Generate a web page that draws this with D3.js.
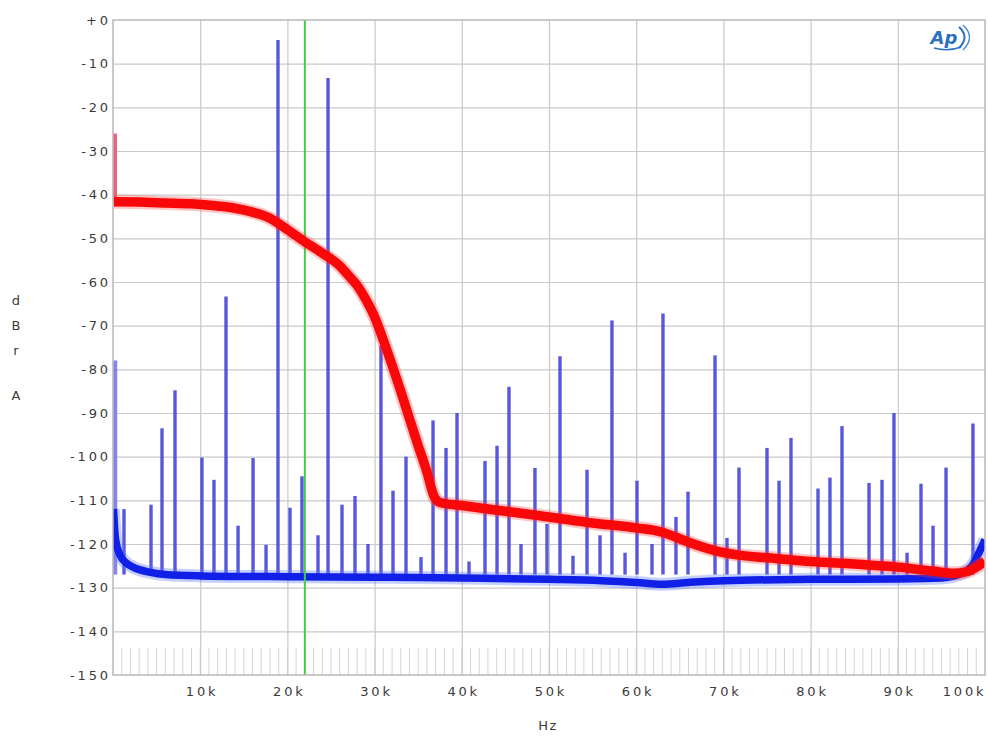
<!DOCTYPE html>
<html><head><meta charset="utf-8">
<script src="https://cdn.jsdelivr.net/npm/d3@7/dist/d3.min.js"></script>
<style>body{margin:0;background:#fff}svg{display:block}</style>
</head><body><svg id="c" width="988" height="737"></svg>
<script>
// ---------- data ----------
const xTickValues = [10000,20000,30000,40000,50000,60000,70000,80000,90000,100000];
const xTickLabels = ["10k","20k","30k","40k","50k","60k","70k","80k","90k","100k"];
const yTickValues = [0,-10,-20,-30,-40,-50,-60,-70,-80,-90,-100,-110,-120,-130,-140,-150];
const yTickLabels = ["+0","-10","-20","-30","-40","-50","-60","-70","-80","-90","-100","-110","-120","-130","-140","-150"];
const yLabelChars = ["d","B","r","A"];
const xLabel = "Hz";

// blue: discrete spectral lines (kHz, dBrA)
const spikeFreqsK = [0,1.26,4.36,5.62,7.11,10.2,11.58,12.96,14.34,16.06,17.55,18.92,20.3,21.67,23.51,24.66,26.26,27.75,29.24,30.73,32.11,33.6,35.32,36.7,38.19,39.45,40.83,42.66,44.04,45.41,46.79,48.39,49.77,51.26,52.75,54.36,55.85,57.22,58.72,60.09,61.81,63.07,64.56,65.94,69.04,70.41,71.79,75.0,76.38,77.75,80.85,82.22,83.6,86.7,88.19,89.56,91.06,92.66,94.04,95.53,98.62];
const spikeLevels = [-78,-112,-111,-93.5,-84.8,-100.2,-105.3,-63.3,-115.8,-100.3,-120.2,-4.6,-111.7,-104.5,-118,-13.3,-111,-109,-120,-74.5,-107.8,-100,-123,-91.7,-98,-90,-124,-101,-97.5,-84,-120,-102.6,-115.4,-77,-122.7,-103,-118,-68.8,-122,-105.5,-120,-67.2,-113.8,-108,-76.8,-118.6,-102.5,-98,-105.5,-95.7,-107.3,-104.8,-93,-106,-105.3,-90,-122,-106.2,-115.8,-102.5,-92.4];

// blue: noise floor (kHz, dBrA)
const floorFreqsK = [0.05,0.3,0.8,1.5,2.3,4.3,6,10,20,30,40,50,56,60,63,66,70,80,90,95,97,98.5,99.3,100];
const floorLevels = [-112,-119,-122.5,-124.3,-125.3,-126.5,-127,-127.3,-127.5,-127.6,-127.8,-128.1,-128.4,-128.8,-129.2,-128.8,-128.4,-128.1,-128,-127.8,-127,-125,-122,-119];

// red: response (kHz, dBrA)
const redFreqsK = [0.1,3,6,9,12,14,16,18,20,22,24,26,27,28,29,30,31,32,33,34,35,36,36.8,37.5,40,45,50,55,60,63,65,67,69,72,76,80,85,90,94,96.5,98,99,100];
const redLevels = [-41.6,-41.7,-41.9,-42.1,-42.6,-43.1,-44,-45.4,-48,-50.8,-53.4,-56.3,-58.5,-60.8,-64,-68,-73.3,-79,-85,-91.3,-97.5,-103.5,-109,-110.5,-111.2,-112.5,-113.8,-115.2,-116.3,-117.3,-118.8,-120.3,-121.5,-122.6,-123.3,-124,-124.6,-125.3,-126.2,-126.7,-126.3,-125.3,-124];
const redStartLevel = -26;
const markerFreqK = 22;

// ---------- chart ----------
const svg = d3.select("#c");
const L = 113, R = 985, T = 20, B = 675;
const x = d3.scaleLinear().domain([0,100000]).range([L,R]);
const y = d3.scaleLinear().domain([-150,0]).range([B,T]);
const font = "'DejaVu Sans', Verdana, sans-serif";
const LS = 2.8;

svg.append("rect").attr("width",988).attr("height",737).attr("fill","#fff");
svg.append("defs").append("clipPath").attr("id","plotclip").append("rect")
  .attr("x",L).attr("y",T).attr("width",R-L).attr("height",B-T);

// minor ticks along the bottom (every 1 kHz)
const minor = d3.range(1000,100000,1000);
svg.append("g").selectAll("line").data(minor).join("line")
  .attr("x1",d=>x(d)).attr("x2",d=>x(d)).attr("y1",B-27).attr("y2",B)
  .attr("stroke","#d4d4d4").attr("stroke-width",1);

// grid via axes
const gx = svg.append("g").attr("transform",`translate(0,${B})`)
  .call(d3.axisBottom(x).tickValues(xTickValues.slice(0,-1)).tickSize(-(B-T)).tickFormat(""));
gx.select(".domain").remove();
gx.selectAll("line").attr("stroke","#c9c9c9").attr("stroke-width",1.2);
const gy = svg.append("g").attr("transform",`translate(${L},0)`)
  .call(d3.axisLeft(y).tickValues(yTickValues.slice(1,-1)).tickSize(-(R-L)).tickFormat(""));
gy.select(".domain").remove();
gy.selectAll("line").attr("stroke","#c9c9c9").attr("stroke-width",1.2);

const plot = svg.append("g").attr("clip-path","url(#plotclip)");

// blue spikes
const spikes = spikeFreqsK.map((f,i)=>({f:f*1000, v:spikeLevels[i]}));
plot.append("g").selectAll("line").data(spikes).join("line")
  .attr("x1",d=>x(d.f)+(d.f===0?2:0)).attr("x2",d=>x(d.f)+(d.f===0?2:0))
  .attr("y1",d=>y(d.v)).attr("y2",y(-127))
  .attr("stroke",d=>d.f===0?"#7b7bef":"#4a4adb")
  .attr("stroke-width",d=>d.f===0?4.5:3.4).attr("opacity",0.92);

// blue floor
const floor = floorFreqsK.map((f,i)=>[f*1000, floorLevels[i]]);
const line = d3.line().x(d=>x(d[0])).y(d=>y(d[1])).curve(d3.curveMonotoneX);
plot.append("path").attr("d",line(floor)).attr("fill","none")
  .attr("stroke","#5a78ff").attr("stroke-width",13).attr("opacity",0.35).attr("stroke-linejoin","round");
plot.append("path").attr("d",line(floor)).attr("fill","none")
  .attr("stroke","#1020e6").attr("stroke-width",7.5).attr("stroke-linejoin","round");

// green marker
plot.append("line").attr("x1",x(markerFreqK*1000)).attr("x2",x(markerFreqK*1000))
  .attr("y1",T).attr("y2",B).attr("stroke","#3fcf3f").attr("stroke-width",2);

// red
plot.append("line").attr("x1",x(0)+2).attr("x2",x(0)+2)
  .attr("y1",y(redStartLevel)).attr("y2",y(redLevels[0]))
  .attr("stroke","#f0607a").attr("stroke-width",4);
const red = redFreqsK.map((f,i)=>[f*1000, redLevels[i]]);
plot.append("path").attr("d",line(red)).attr("fill","none")
  .attr("stroke","#ff3a3a").attr("stroke-width",14).attr("opacity",0.3).attr("stroke-linejoin","round");
plot.append("path").attr("d",line(red)).attr("fill","none")
  .attr("stroke","#f80808").attr("stroke-width",9.5).attr("stroke-linejoin","round");

// border
svg.append("rect").attr("x",L).attr("y",T).attr("width",R-L).attr("height",B-T)
  .attr("fill","none").attr("stroke","#b8b8b8").attr("stroke-width",1.5);

// y tick labels
const ay = svg.append("g").attr("transform",`translate(${L},0)`)
  .call(d3.axisLeft(y).tickValues(yTickValues).tickSize(0).tickPadding(5)
    .tickFormat((d,i)=>yTickLabels[i]));
ay.select(".domain").remove();
ay.selectAll("text").attr("font-family",font).attr("font-size",13).attr("fill","#3a3a3a")
  .attr("letter-spacing",LS+"px").attr("dx",LS);

// x tick labels
const ax = svg.append("g").attr("transform",`translate(0,${B})`)
  .call(d3.axisBottom(x).tickValues(xTickValues).tickSize(0).tickPadding(12)
    .tickFormat((d,i)=>xTickLabels[i]));
ax.select(".domain").remove();
ax.selectAll("text").attr("font-family",font).attr("font-size",13).attr("fill","#3a3a3a")
  .attr("letter-spacing",LS+"px").attr("dx",LS/2);
ax.selectAll(".tick").filter(d=>d===100000).select("text")
  .attr("text-anchor","end").attr("dx",LS-2);

// axis titles
svg.append("text").attr("x",548).attr("y",730).attr("text-anchor","middle")
  .attr("font-family",font).attr("font-size",13).attr("fill","#3a3a3a")
  .attr("letter-spacing","1.5px").text(xLabel);
const yLabelPos = [300,325,350,395];
svg.append("g").selectAll("text").data(yLabelChars).join("text")
  .attr("x",16).attr("y",(d,i)=>yLabelPos[i]+5).attr("text-anchor","middle")
  .attr("font-family",font).attr("font-size",13).attr("fill","#3a3a3a").text(d=>d);

// Ap logo
const lg = svg.append("g").attr("transform","translate(946,38)");
lg.append("text").attr("x",-2).attr("y",6).attr("text-anchor","middle")
  .attr("font-family",font).attr("font-style","italic").attr("font-weight","bold")
  .attr("font-size",18).attr("fill","#2c6fc0").text("Ap");
lg.append("path").attr("d","M 13,-11 Q 24,-1 13,10").attr("fill","none")
  .attr("stroke","#2c6fc0").attr("stroke-width",2);
lg.append("path").attr("d","M 17,-13 Q 30,-1 17,12").attr("fill","none")
  .attr("stroke","#4a8ad6").attr("stroke-width",1.4);
lg.append("path").attr("d","M -12,10 Q 2,14 15,9").attr("fill","none")
  .attr("stroke","#2c6fc0").attr("stroke-width",1.4);
</script></body></html>
